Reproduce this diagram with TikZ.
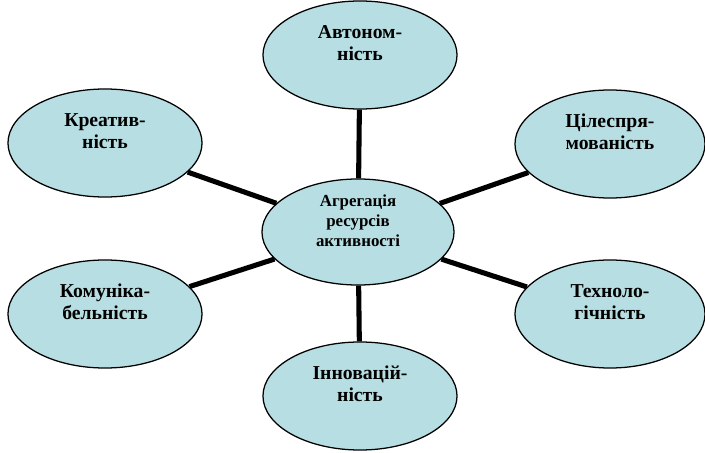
\documentclass[tikz,border=0pt]{standalone}
\usepackage{fontspec}
\setmainfont{Liberation Serif}
\usetikzlibrary{shapes.geometric}
\definecolor{ovalfill}{RGB}{183,222,226}

\begin{document}
\begin{tikzpicture}[x=0.025cm,y=-0.025cm,
  oval/.style={ellipse,draw=black,line width=0.9pt,fill=ovalfill,align=center,
    font=\bfseries\fontsize{14}{15.6}\selectfont,minimum width=4.85cm,minimum height=2.7cm,
    inner sep=0pt,text depth=17pt},
  hub/.style={oval,font=\bfseries\fontsize{12}{14.5}\selectfont,minimum width=4.8cm,
    minimum height=2.55cm,text depth=16pt},
  spoke/.style={line width=3.6pt,black}]
\useasboundingbox (0,0) rectangle (705,453);

\node[hub] (agr) at (358,232) {Агрегація\\ресурсів\\активності};
\node[oval] (avt) at (360,55) {Автоном-\\ність};
\node[oval] (kre) at (105,143) {Креатив-\\ність};
\node[oval,minimum width=4.75cm] (cil) at (610,144) {Цілеспря-\\мованість};
\node[oval] (kom) at (105,314) {Комуніка-\\бельність};
\node[oval,minimum width=4.75cm] (teh) at (610,314) {Техноло-\\гічність};
\node[oval] (inn) at (360,396) {Інновацій-\\ність};

\draw[spoke] (agr) -- (avt);
\draw[spoke] (agr) -- (kre);
\draw[spoke] (agr) -- (cil);
\draw[spoke] (agr) -- (kom);
\draw[spoke] (agr) -- (teh);
\draw[spoke] (agr) -- (inn);

\end{tikzpicture}
\end{document}
